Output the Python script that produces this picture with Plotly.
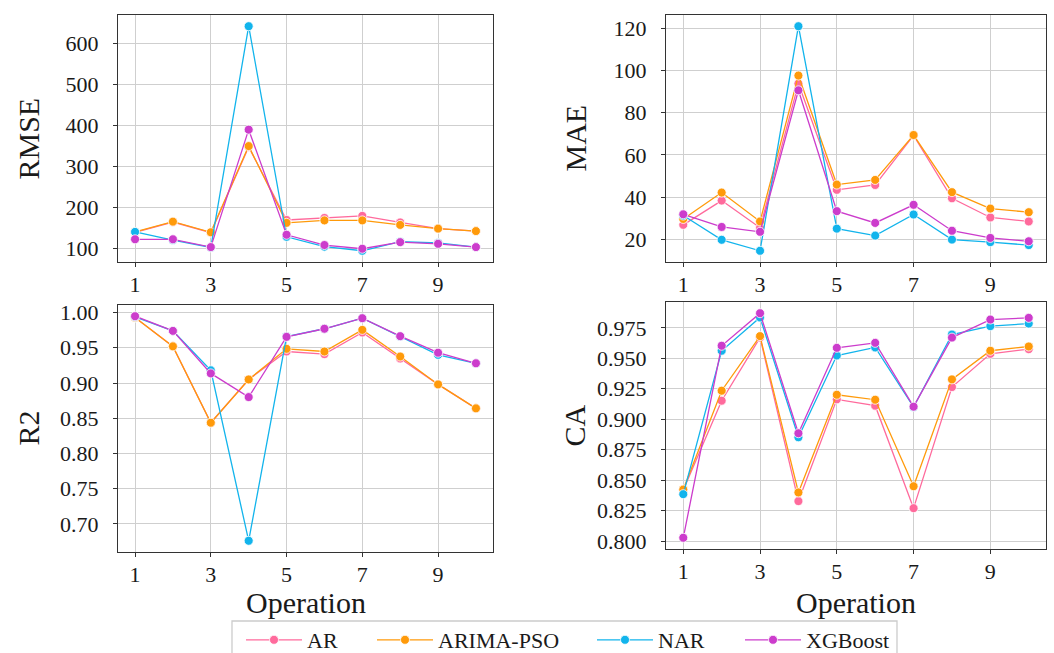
import plotly.graph_objects as go

operations = [1, 2, 3, 4, 5, 6, 7, 8, 9, 10]
models = ["AR", "ARIMA-PSO", "NAR", "XGBoost"]
colors = {"AR": "#ff6a9c", "ARIMA-PSO": "#ff9a0a", "NAR": "#12b4ec", "XGBoost": "#cc3ccc"}

rmse_ar = [139, 164, 138, 347, 169, 174, 179, 163, 148, 142]
rmse_arima = [140, 165, 139, 349, 162, 168, 168, 157, 148, 142]
rmse_nar = [140, 120, 102, 641, 128, 104, 94, 116, 113, 103]
rmse_xgb = [122, 122, 103, 389, 133, 108, 99, 115, 111, 103]

mae_ar = [26.8, 38.3, 25.4, 93.8, 43.4, 45.7, 69.2, 39.4, 30.3, 28.4]
mae_arima = [29.6, 42.1, 28.4, 97.6, 45.9, 48.1, 69.4, 42.3, 34.5, 32.8]
mae_nar = [31.2, 19.7, 14.5, 121.0, 25.0, 21.7, 31.7, 19.8, 18.6, 17.2]
mae_xgb = [31.8, 25.8, 23.5, 90.6, 33.3, 27.7, 36.3, 24.0, 20.6, 19.0]

r2_ar = [0.993, 0.952, 0.8436, 0.905, 0.9447, 0.941, 0.9717, 0.9348, 0.898, 0.864]
r2_arima = [0.993, 0.952, 0.8436, 0.905, 0.9485, 0.9447, 0.9754, 0.9376, 0.898, 0.864]
r2_nar = [0.994, 0.974, 0.918, 0.676, 0.966, 0.977, 0.992, 0.966, 0.940, 0.928]
r2_xgb = [0.9948, 0.974, 0.9136, 0.880, 0.9655, 0.977, 0.992, 0.9665, 0.943, 0.928]

ca_ar = [0.842, 0.9152, 0.967, 0.8328, 0.9163, 0.9111, 0.827, 0.9264, 0.9537, 0.9575]
ca_arima = [0.8423, 0.9234, 0.9682, 0.8399, 0.9201, 0.916, 0.845, 0.9327, 0.9562, 0.9597]
ca_nar = [0.8385, 0.9562, 0.9835, 0.8852, 0.9523, 0.9589, 0.910, 0.9695, 0.9764, 0.9785]
ca_xgb = [0.8027, 0.9603, 0.987, 0.8885, 0.9586, 0.9627, 0.9103, 0.967, 0.9818, 0.9832]

panels = [
    ("RMSE", [rmse_ar, rmse_arima, rmse_nar, rmse_xgb], [100, 200, 300, 400, 500, 600], "d"),
    ("MAE", [mae_ar, mae_arima, mae_nar, mae_xgb], [20, 40, 60, 80, 100, 120], "d"),
    ("R2", [r2_ar, r2_arima, r2_nar, r2_xgb], [0.70, 0.75, 0.80, 0.85, 0.90, 0.95, 1.00], ".2f"),
    ("CA", [ca_ar, ca_arima, ca_nar, ca_xgb], [0.800, 0.825, 0.850, 0.875, 0.900, 0.925, 0.950, 0.975], ".3f"),
]

W, H = 1054, 653
# pixel boxes of each axes: (left, right, top, bottom)
boxes = [(118, 493, 15, 262), (666, 1046, 15, 262), (118, 493, 305, 552), (666, 1046, 302, 549)]
ytitle_x = [28, 575, 28, 574]
# left edge of each legend entry, in pixels
legend_x = [241, 372, 592, 740]

FONT = "Liberation Serif"
fig = go.Figure()

def padded(lo, hi, frac=0.05):
    span = hi - lo
    return [lo - frac * span, hi + frac * span]

legend_ids = ["legend", "legend2", "legend3", "legend4"]

for i, (name, series, ticks, fmt) in enumerate(panels):
    n = i + 1
    xa = "x" if n == 1 else f"x{n}"
    ya = "y" if n == 1 else f"y{n}"
    for k, (model, vals) in enumerate(zip(models, series)):
        fig.add_trace(go.Scatter(
            x=operations, y=vals, mode="lines+markers", name=model,
            xaxis=xa, yaxis=ya, showlegend=(n == 1), legend=legend_ids[k],
            line=dict(color=colors[model], width=1.3),
            marker=dict(size=9, color=colors[model], line=dict(color="white", width=0.8)),
        ))
    l, r, t, b = boxes[i]
    allv = [v for s in series for v in s]
    common = dict(showline=True, linecolor="#333333", linewidth=1.2, mirror=True,
                  showgrid=True, gridcolor="#cfcfcf", gridwidth=1.4, zeroline=False,
                  ticks="outside", ticklen=4, tickcolor="#333333", tickwidth=1,
                  tickfont=dict(family=FONT, size=22, color="#1a1a1a"))
    fig.layout[("xaxis" if n == 1 else f"xaxis{n}")] = dict(
        domain=[l / W, r / W], anchor=ya, range=padded(1, 10),
        tickvals=[1, 3, 5, 7, 9], ticklabelstandoff=-2, **common)
    fig.layout[("yaxis" if n == 1 else f"yaxis{n}")] = dict(
        domain=[1 - b / H, 1 - t / H], anchor=xa, range=padded(min(allv), max(allv)),
        tickvals=ticks, tickformat=fmt, ticklabelstandoff=10, **common)
    fig.add_annotation(text=name, xref="paper", yref="paper", x=ytitle_x[i] / W,
                       y=1 - (t + b) / 2 / H, textangle=-90, showarrow=False,
                       xanchor="center", yanchor="middle",
                       font=dict(family=FONT, size=30, color="#1a1a1a"))
    if n >= 3:
        fig.add_annotation(text="Operation", xref="paper", yref="paper",
                           x=(l + r) / 2 / W, y=1 - 602 / H, showarrow=False,
                           xanchor="center", yanchor="middle",
                           font=dict(family=FONT, size=30, color="#1a1a1a"))

# one legend entry per model, laid out along a shared frame
legend_style = dict(orientation="h", yanchor="middle", xanchor="left",
                    bgcolor="rgba(0,0,0,0)", borderwidth=0, itemwidth=56,
                    font=dict(family=FONT, size=22, color="#1a1a1a"))
for lid, lx in zip(legend_ids, legend_x):
    fig.layout[lid] = dict(x=lx / W, y=1 - 640 / H, **legend_style)

fig.add_shape(type="rect", xref="paper", yref="paper",
              x0=232 / W, x1=897 / W, y0=1 - 672 / H, y1=1 - 621 / H,
              line=dict(color="#cccccc", width=1.3), fillcolor="rgba(0,0,0,0)",
              layer="below")

fig.update_layout(
    width=W, height=H, margin=dict(l=0, r=0, t=0, b=0, autoexpand=False),
    paper_bgcolor="white", plot_bgcolor="white",
)

fig.write_html("out.html")
